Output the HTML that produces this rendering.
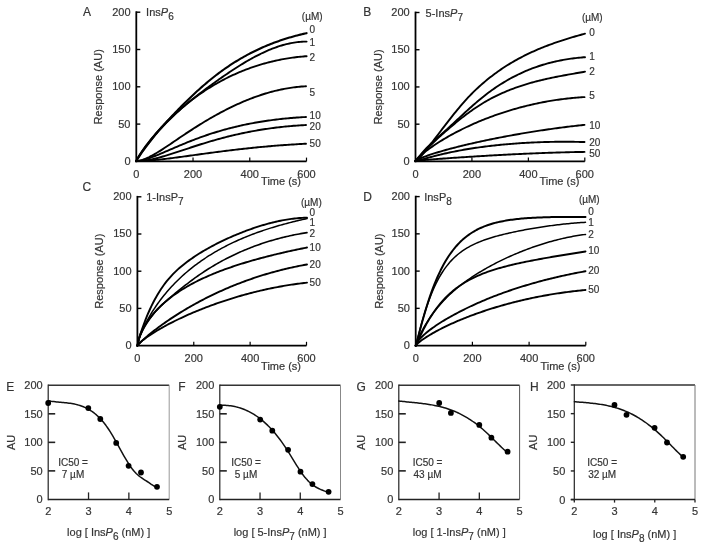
<!DOCTYPE html>
<html><head><meta charset="utf-8"><style>
html,body{margin:0;padding:0;background:#fff;}
svg{display:block;font-family:"Liberation Sans", sans-serif;filter:blur(0.5px);}
text{stroke:#3a3a3a;stroke-width:0.2px;}
</style></head><body>
<svg width="704" height="550" viewBox="0 0 704 550">
<rect width="704" height="550" fill="#fff"/>
<text x="83.00" y="15.50" font-size="12" text-anchor="start" fill="#333" >A</text>
<line x1="136.30" y1="11.30" x2="136.30" y2="162.30" stroke="#000" stroke-width="1.8"/>
<line x1="135.40" y1="161.40" x2="306.50" y2="161.40" stroke="#000" stroke-width="1.8"/>
<line x1="136.30" y1="12.20" x2="140.30" y2="12.20" stroke="#000" stroke-width="1.4"/>
<line x1="136.30" y1="49.50" x2="140.30" y2="49.50" stroke="#000" stroke-width="1.4"/>
<line x1="136.30" y1="86.80" x2="140.30" y2="86.80" stroke="#000" stroke-width="1.4"/>
<line x1="136.30" y1="124.10" x2="140.30" y2="124.10" stroke="#000" stroke-width="1.4"/>
<line x1="193.03" y1="161.40" x2="193.03" y2="157.60" stroke="#000" stroke-width="1.2"/>
<line x1="249.77" y1="161.40" x2="249.77" y2="157.60" stroke="#000" stroke-width="1.2"/>
<line x1="306.50" y1="161.40" x2="306.50" y2="157.60" stroke="#000" stroke-width="1.2"/>
<text x="130.50" y="15.60" font-size="11" text-anchor="end" fill="#333" >200</text>
<text x="130.50" y="52.90" font-size="11" text-anchor="end" fill="#333" >150</text>
<text x="130.50" y="90.20" font-size="11" text-anchor="end" fill="#333" >100</text>
<text x="130.50" y="127.50" font-size="11" text-anchor="end" fill="#333" >50</text>
<text x="130.50" y="164.80" font-size="11" text-anchor="end" fill="#333" >0</text>
<text x="136.30" y="177.50" font-size="11" text-anchor="middle" fill="#333" >0</text>
<text x="193.03" y="177.50" font-size="11" text-anchor="middle" fill="#333" >200</text>
<text x="249.77" y="177.50" font-size="11" text-anchor="middle" fill="#333" >400</text>
<text x="306.50" y="177.50" font-size="11" text-anchor="middle" fill="#333" >600</text>
<text x="301.00" y="185.20" font-size="11" text-anchor="end" fill="#333" >Time (s)</text>
<text x="0" y="0" font-size="11" text-anchor="middle" fill="#333" transform="translate(102.30,86.80) rotate(-90)">Response (AU)</text>
<text x="146.10" y="16.00" font-size="11" fill="#333">Ins<tspan font-style="italic">P</tspan><tspan dy="4" font-size="10">6</tspan></text>
<text x="301.80" y="20.00" font-size="10" text-anchor="start" fill="#333" >(&#181;M)</text>
<text x="309.60" y="33.40" font-size="10" text-anchor="start" fill="#333" >0</text>
<text x="309.60" y="45.80" font-size="10" text-anchor="start" fill="#333" >1</text>
<text x="309.60" y="61.10" font-size="10" text-anchor="start" fill="#333" >2</text>
<text x="309.60" y="95.60" font-size="10" text-anchor="start" fill="#333" >5</text>
<text x="309.60" y="119.20" font-size="10" text-anchor="start" fill="#333" >10</text>
<text x="309.60" y="130.00" font-size="10" text-anchor="start" fill="#333" >20</text>
<text x="309.60" y="147.20" font-size="10" text-anchor="start" fill="#333" >50</text>
<path d="M136.30,160.99 L137.86,158.44 L139.42,156.06 L140.99,153.75 L142.55,151.50 L144.11,149.31 L145.67,147.17 L147.24,145.07 L148.80,143.02 L150.36,141.00 L151.92,139.02 L153.49,137.07 L155.05,135.16 L156.61,133.28 L158.17,131.42 L159.74,129.59 L161.30,127.79 L162.86,126.02 L164.42,124.26 L165.99,122.53 L167.55,120.81 L169.11,119.12 L170.67,117.44 L172.23,115.78 L173.80,114.13 L175.36,112.50 L176.92,110.87 L178.48,109.26 L180.05,107.67 L181.61,106.09 L183.17,104.52 L184.73,102.97 L186.30,101.43 L187.86,99.90 L189.42,98.39 L190.98,96.90 L192.55,95.42 L194.11,93.95 L195.67,92.50 L197.23,91.07 L198.80,89.66 L200.36,88.26 L201.92,86.88 L203.48,85.52 L205.04,84.17 L206.61,82.84 L208.17,81.53 L209.73,80.24 L211.29,78.97 L212.86,77.72 L214.42,76.49 L215.98,75.27 L217.54,74.08 L219.11,72.91 L220.67,71.75 L222.23,70.62 L223.79,69.50 L225.36,68.41 L226.92,67.33 L228.48,66.27 L230.04,65.23 L231.61,64.21 L233.17,63.21 L234.73,62.22 L236.29,61.25 L237.86,60.30 L239.42,59.37 L240.98,58.45 L242.54,57.55 L244.10,56.67 L245.67,55.80 L247.23,54.95 L248.79,54.12 L250.35,53.30 L251.92,52.50 L253.48,51.71 L255.04,50.94 L256.60,50.19 L258.17,49.45 L259.73,48.72 L261.29,48.01 L262.85,47.32 L264.42,46.64 L265.98,45.97 L267.54,45.32 L269.10,44.68 L270.67,44.06 L272.23,43.45 L273.79,42.85 L275.35,42.27 L276.91,41.70 L278.48,41.14 L280.04,40.59 L281.60,40.06 L283.16,39.54 L284.73,39.04 L286.29,38.54 L287.85,38.06 L289.41,37.59 L290.98,37.14 L292.54,36.69 L294.10,36.25 L295.66,35.83 L297.23,35.42 L298.79,35.02 L300.35,34.63 L301.91,34.25 L303.48,33.88 L305.04,33.52 L306.60,33.18" fill="none" stroke="#000" stroke-width="2.1" stroke-linejoin="round" stroke-linecap="round"/>
<path d="M136.30,160.99 L137.86,158.07 L139.42,155.55 L140.99,153.18 L142.55,150.91 L144.11,148.73 L145.67,146.61 L147.24,144.56 L148.80,142.55 L150.36,140.60 L151.92,138.69 L153.49,136.83 L155.05,135.00 L156.61,133.21 L158.17,131.45 L159.74,129.73 L161.30,128.04 L162.86,126.38 L164.42,124.75 L165.99,123.14 L167.55,121.57 L169.11,120.01 L170.67,118.49 L172.23,116.98 L173.80,115.50 L175.36,114.04 L176.92,112.61 L178.48,111.19 L180.05,109.79 L181.61,108.41 L183.17,107.05 L184.73,105.71 L186.30,104.38 L187.86,103.07 L189.42,101.78 L190.98,100.50 L192.55,99.23 L194.11,97.98 L195.67,96.74 L197.23,95.51 L198.80,94.30 L200.36,93.09 L201.92,91.90 L203.48,90.72 L205.04,89.54 L206.61,88.38 L208.17,87.23 L209.73,86.08 L211.29,84.94 L212.86,83.81 L214.42,82.68 L215.98,81.56 L217.54,80.45 L219.11,79.34 L220.67,78.24 L222.23,77.15 L223.79,76.07 L225.36,74.99 L226.92,73.92 L228.48,72.86 L230.04,71.81 L231.61,70.77 L233.17,69.75 L234.73,68.73 L236.29,67.72 L237.86,66.73 L239.42,65.74 L240.98,64.77 L242.54,63.82 L244.10,62.87 L245.67,61.94 L247.23,61.03 L248.79,60.13 L250.35,59.24 L251.92,58.37 L253.48,57.52 L255.04,56.68 L256.60,55.86 L258.17,55.06 L259.73,54.28 L261.29,53.51 L262.85,52.77 L264.42,52.04 L265.98,51.34 L267.54,50.65 L269.10,49.99 L270.67,49.34 L272.23,48.72 L273.79,48.12 L275.35,47.55 L276.91,47.00 L278.48,46.47 L280.04,45.96 L281.60,45.48 L283.16,45.03 L284.73,44.60 L286.29,44.20 L287.85,43.82 L289.41,43.47 L290.98,43.15 L292.54,42.86 L294.10,42.60 L295.66,42.36 L297.23,42.16 L298.79,41.98 L300.35,41.84 L301.91,41.72 L303.48,41.64 L305.04,41.59 L306.60,41.58" fill="none" stroke="#000" stroke-width="1.9" stroke-linejoin="round" stroke-linecap="round"/>
<path d="M136.30,161.00 L137.86,157.89 L139.42,155.27 L140.99,152.83 L142.55,150.51 L144.11,148.29 L145.67,146.14 L147.24,144.06 L148.80,142.04 L150.36,140.07 L151.92,138.15 L153.49,136.27 L155.05,134.44 L156.61,132.64 L158.17,130.88 L159.74,129.16 L161.30,127.46 L162.86,125.81 L164.42,124.18 L165.99,122.58 L167.55,121.01 L169.11,119.47 L170.67,117.96 L172.23,116.48 L173.80,115.02 L175.36,113.58 L176.92,112.17 L178.48,110.79 L180.05,109.43 L181.61,108.09 L183.17,106.77 L184.73,105.48 L186.30,104.21 L187.86,102.96 L189.42,101.74 L190.98,100.53 L192.55,99.34 L194.11,98.18 L195.67,97.03 L197.23,95.91 L198.80,94.80 L200.36,93.72 L201.92,92.65 L203.48,91.60 L205.04,90.57 L206.61,89.56 L208.17,88.57 L209.73,87.59 L211.29,86.63 L212.86,85.69 L214.42,84.77 L215.98,83.86 L217.54,82.98 L219.11,82.10 L220.67,81.25 L222.23,80.41 L223.79,79.59 L225.36,78.78 L226.92,77.99 L228.48,77.21 L230.04,76.46 L231.61,75.71 L233.17,74.98 L234.73,74.27 L236.29,73.57 L237.86,72.89 L239.42,72.22 L240.98,71.57 L242.54,70.93 L244.10,70.31 L245.67,69.70 L247.23,69.11 L248.79,68.53 L250.35,67.96 L251.92,67.41 L253.48,66.87 L255.04,66.34 L256.60,65.83 L258.17,65.34 L259.73,64.85 L261.29,64.38 L262.85,63.92 L264.42,63.48 L265.98,63.05 L267.54,62.63 L269.10,62.23 L270.67,61.83 L272.23,61.46 L273.79,61.09 L275.35,60.74 L276.91,60.39 L278.48,60.06 L280.04,59.75 L281.60,59.44 L283.16,59.15 L284.73,58.87 L286.29,58.60 L287.85,58.35 L289.41,58.11 L290.98,57.87 L292.54,57.65 L294.10,57.44 L295.66,57.25 L297.23,57.06 L298.79,56.89 L300.35,56.73 L301.91,56.58 L303.48,56.44 L305.04,56.31 L306.60,56.19" fill="none" stroke="#000" stroke-width="1.9" stroke-linejoin="round" stroke-linecap="round"/>
<path d="M136.30,160.98 L137.86,160.89 L139.41,160.63 L140.97,160.27 L142.53,159.81 L144.08,159.27 L145.64,158.65 L147.20,157.98 L148.76,157.25 L150.31,156.47 L151.87,155.66 L153.43,154.80 L154.98,153.91 L156.54,152.99 L158.10,152.05 L159.65,151.08 L161.21,150.10 L162.77,149.10 L164.32,148.08 L165.88,147.06 L167.44,146.02 L168.99,144.98 L170.55,143.93 L172.11,142.88 L173.67,141.82 L175.22,140.76 L176.78,139.70 L178.34,138.65 L179.89,137.59 L181.45,136.54 L183.01,135.49 L184.56,134.45 L186.12,133.41 L187.68,132.38 L189.23,131.36 L190.79,130.34 L192.35,129.33 L193.90,128.32 L195.46,127.33 L197.02,126.34 L198.58,125.37 L200.13,124.40 L201.69,123.44 L203.25,122.49 L204.80,121.55 L206.36,120.62 L207.92,119.71 L209.47,118.80 L211.03,117.90 L212.59,117.01 L214.14,116.13 L215.70,115.26 L217.26,114.40 L218.81,113.55 L220.37,112.71 L221.93,111.89 L223.49,111.07 L225.04,110.26 L226.60,109.47 L228.16,108.68 L229.71,107.91 L231.27,107.14 L232.83,106.39 L234.38,105.65 L235.94,104.93 L237.50,104.21 L239.05,103.51 L240.61,102.82 L242.17,102.14 L243.72,101.47 L245.28,100.82 L246.84,100.18 L248.40,99.55 L249.95,98.94 L251.51,98.34 L253.07,97.75 L254.62,97.18 L256.18,96.61 L257.74,96.07 L259.29,95.53 L260.85,95.01 L262.41,94.50 L263.96,94.01 L265.52,93.53 L267.08,93.06 L268.63,92.61 L270.19,92.18 L271.75,91.75 L273.31,91.35 L274.86,90.95 L276.42,90.57 L277.98,90.21 L279.53,89.86 L281.09,89.52 L282.65,89.20 L284.20,88.90 L285.76,88.61 L287.32,88.34 L288.87,88.08 L290.43,87.83 L291.99,87.61 L293.54,87.39 L295.10,87.20 L296.66,87.02 L298.22,86.85 L299.77,86.71 L301.33,86.57 L302.89,86.46 L304.44,86.36 L306.00,86.28" fill="none" stroke="#000" stroke-width="1.9" stroke-linejoin="round" stroke-linecap="round"/>
<path d="M136.30,161.00 L137.86,160.93 L139.41,160.74 L140.97,160.47 L142.53,160.13 L144.08,159.73 L145.64,159.29 L147.20,158.82 L148.76,158.30 L150.31,157.76 L151.87,157.20 L153.43,156.61 L154.98,156.01 L156.54,155.39 L158.10,154.76 L159.65,154.11 L161.21,153.46 L162.77,152.80 L164.32,152.14 L165.88,151.47 L167.44,150.80 L168.99,150.12 L170.55,149.45 L172.11,148.78 L173.67,148.11 L175.22,147.44 L176.78,146.77 L178.34,146.11 L179.89,145.45 L181.45,144.80 L183.01,144.15 L184.56,143.51 L186.12,142.87 L187.68,142.24 L189.23,141.62 L190.79,141.00 L192.35,140.39 L193.90,139.79 L195.46,139.20 L197.02,138.61 L198.58,138.04 L200.13,137.47 L201.69,136.90 L203.25,136.35 L204.80,135.81 L206.36,135.27 L207.92,134.74 L209.47,134.22 L211.03,133.71 L212.59,133.21 L214.14,132.72 L215.70,132.23 L217.26,131.76 L218.81,131.29 L220.37,130.83 L221.93,130.38 L223.49,129.94 L225.04,129.51 L226.60,129.08 L228.16,128.67 L229.71,128.26 L231.27,127.86 L232.83,127.47 L234.38,127.08 L235.94,126.71 L237.50,126.34 L239.05,125.98 L240.61,125.62 L242.17,125.28 L243.72,124.94 L245.28,124.61 L246.84,124.29 L248.40,123.98 L249.95,123.67 L251.51,123.37 L253.07,123.08 L254.62,122.80 L256.18,122.52 L257.74,122.25 L259.29,121.98 L260.85,121.73 L262.41,121.47 L263.96,121.23 L265.52,120.99 L267.08,120.76 L268.63,120.54 L270.19,120.32 L271.75,120.11 L273.31,119.91 L274.86,119.71 L276.42,119.52 L277.98,119.33 L279.53,119.15 L281.09,118.98 L282.65,118.81 L284.20,118.65 L285.76,118.50 L287.32,118.35 L288.87,118.21 L290.43,118.07 L291.99,117.94 L293.54,117.81 L295.10,117.69 L296.66,117.57 L298.22,117.47 L299.77,117.36 L301.33,117.26 L302.89,117.17 L304.44,117.08 L306.00,117.00" fill="none" stroke="#000" stroke-width="1.9" stroke-linejoin="round" stroke-linecap="round"/>
<path d="M136.30,160.99 L137.86,161.01 L139.41,160.98 L140.97,160.90 L142.53,160.77 L144.08,160.61 L145.64,160.41 L147.20,160.18 L148.76,159.91 L150.31,159.62 L151.87,159.31 L153.43,158.97 L154.98,158.60 L156.54,158.22 L158.10,157.82 L159.65,157.41 L161.21,156.98 L162.77,156.53 L164.32,156.08 L165.88,155.61 L167.44,155.14 L168.99,154.66 L170.55,154.17 L172.11,153.67 L173.67,153.17 L175.22,152.66 L176.78,152.15 L178.34,151.64 L179.89,151.13 L181.45,150.61 L183.01,150.10 L184.56,149.58 L186.12,149.06 L187.68,148.55 L189.23,148.04 L190.79,147.52 L192.35,147.02 L193.90,146.51 L195.46,146.01 L197.02,145.50 L198.58,145.01 L200.13,144.52 L201.69,144.03 L203.25,143.54 L204.80,143.06 L206.36,142.59 L207.92,142.12 L209.47,141.65 L211.03,141.20 L212.59,140.74 L214.14,140.29 L215.70,139.85 L217.26,139.42 L218.81,138.99 L220.37,138.56 L221.93,138.14 L223.49,137.73 L225.04,137.33 L226.60,136.93 L228.16,136.53 L229.71,136.15 L231.27,135.77 L232.83,135.39 L234.38,135.03 L235.94,134.67 L237.50,134.31 L239.05,133.96 L240.61,133.62 L242.17,133.29 L243.72,132.96 L245.28,132.64 L246.84,132.32 L248.40,132.02 L249.95,131.71 L251.51,131.42 L253.07,131.13 L254.62,130.85 L256.18,130.57 L257.74,130.30 L259.29,130.04 L260.85,129.78 L262.41,129.53 L263.96,129.29 L265.52,129.05 L267.08,128.82 L268.63,128.59 L270.19,128.37 L271.75,128.16 L273.31,127.96 L274.86,127.75 L276.42,127.56 L277.98,127.37 L279.53,127.19 L281.09,127.01 L282.65,126.84 L284.20,126.68 L285.76,126.52 L287.32,126.37 L288.87,126.22 L290.43,126.08 L291.99,125.95 L293.54,125.82 L295.10,125.70 L296.66,125.58 L298.22,125.47 L299.77,125.37 L301.33,125.27 L302.89,125.18 L304.44,125.09 L306.00,125.01" fill="none" stroke="#000" stroke-width="1.9" stroke-linejoin="round" stroke-linecap="round"/>
<path d="M136.30,161.00 L137.86,161.01 L139.41,160.99 L140.97,160.95 L142.53,160.90 L144.08,160.83 L145.64,160.75 L147.20,160.65 L148.76,160.54 L150.31,160.42 L151.87,160.30 L153.43,160.16 L154.98,160.02 L156.54,159.87 L158.10,159.71 L159.65,159.55 L161.21,159.38 L162.77,159.20 L164.32,159.02 L165.88,158.84 L167.44,158.65 L168.99,158.46 L170.55,158.27 L172.11,158.07 L173.67,157.87 L175.22,157.67 L176.78,157.46 L178.34,157.26 L179.89,157.05 L181.45,156.84 L183.01,156.63 L184.56,156.42 L186.12,156.20 L187.68,155.99 L189.23,155.78 L190.79,155.56 L192.35,155.35 L193.90,155.13 L195.46,154.92 L197.02,154.70 L198.58,154.49 L200.13,154.28 L201.69,154.06 L203.25,153.85 L204.80,153.64 L206.36,153.43 L207.92,153.22 L209.47,153.01 L211.03,152.80 L212.59,152.59 L214.14,152.39 L215.70,152.18 L217.26,151.98 L218.81,151.78 L220.37,151.58 L221.93,151.38 L223.49,151.18 L225.04,150.99 L226.60,150.79 L228.16,150.60 L229.71,150.41 L231.27,150.22 L232.83,150.04 L234.38,149.85 L235.94,149.67 L237.50,149.49 L239.05,149.31 L240.61,149.13 L242.17,148.96 L243.72,148.78 L245.28,148.61 L246.84,148.44 L248.40,148.28 L249.95,148.11 L251.51,147.95 L253.07,147.79 L254.62,147.63 L256.18,147.48 L257.74,147.32 L259.29,147.17 L260.85,147.02 L262.41,146.88 L263.96,146.73 L265.52,146.59 L267.08,146.45 L268.63,146.31 L270.19,146.18 L271.75,146.04 L273.31,145.91 L274.86,145.79 L276.42,145.66 L277.98,145.54 L279.53,145.42 L281.09,145.30 L282.65,145.18 L284.20,145.07 L285.76,144.96 L287.32,144.85 L288.87,144.74 L290.43,144.64 L291.99,144.54 L293.54,144.44 L295.10,144.34 L296.66,144.25 L298.22,144.16 L299.77,144.07 L301.33,143.98 L302.89,143.90 L304.44,143.81 L306.00,143.74" fill="none" stroke="#000" stroke-width="1.9" stroke-linejoin="round" stroke-linecap="round"/>
<text x="363.25" y="15.50" font-size="12" text-anchor="start" fill="#333" >B</text>
<line x1="415.50" y1="11.60" x2="415.50" y2="162.30" stroke="#000" stroke-width="1.8"/>
<line x1="414.60" y1="161.40" x2="584.80" y2="161.40" stroke="#000" stroke-width="1.8"/>
<line x1="415.50" y1="12.50" x2="419.50" y2="12.50" stroke="#000" stroke-width="1.4"/>
<line x1="415.50" y1="49.73" x2="419.50" y2="49.73" stroke="#000" stroke-width="1.4"/>
<line x1="415.50" y1="86.95" x2="419.50" y2="86.95" stroke="#000" stroke-width="1.4"/>
<line x1="415.50" y1="124.18" x2="419.50" y2="124.18" stroke="#000" stroke-width="1.4"/>
<line x1="471.93" y1="161.40" x2="471.93" y2="157.60" stroke="#000" stroke-width="1.2"/>
<line x1="528.37" y1="161.40" x2="528.37" y2="157.60" stroke="#000" stroke-width="1.2"/>
<line x1="584.80" y1="161.40" x2="584.80" y2="157.60" stroke="#000" stroke-width="1.2"/>
<text x="409.70" y="15.90" font-size="11" text-anchor="end" fill="#333" >200</text>
<text x="409.70" y="53.13" font-size="11" text-anchor="end" fill="#333" >150</text>
<text x="409.70" y="90.35" font-size="11" text-anchor="end" fill="#333" >100</text>
<text x="409.70" y="127.58" font-size="11" text-anchor="end" fill="#333" >50</text>
<text x="409.70" y="164.80" font-size="11" text-anchor="end" fill="#333" >0</text>
<text x="415.50" y="177.50" font-size="11" text-anchor="middle" fill="#333" >0</text>
<text x="471.93" y="177.50" font-size="11" text-anchor="middle" fill="#333" >200</text>
<text x="528.37" y="177.50" font-size="11" text-anchor="middle" fill="#333" >400</text>
<text x="584.80" y="177.50" font-size="11" text-anchor="middle" fill="#333" >600</text>
<text x="579.30" y="185.20" font-size="11" text-anchor="end" fill="#333" >Time (s)</text>
<text x="0" y="0" font-size="11" text-anchor="middle" fill="#333" transform="translate(381.90,86.95) rotate(-90)">Response (AU)</text>
<text x="425.60" y="16.50" font-size="11" fill="#333">5-Ins<tspan font-style="italic">P</tspan><tspan dy="4" font-size="10">7</tspan></text>
<text x="581.90" y="21.00" font-size="10" text-anchor="start" fill="#333" >(&#181;M)</text>
<text x="589.30" y="35.60" font-size="10" text-anchor="start" fill="#333" >0</text>
<text x="589.30" y="60.30" font-size="10" text-anchor="start" fill="#333" >1</text>
<text x="589.30" y="74.90" font-size="10" text-anchor="start" fill="#333" >2</text>
<text x="589.30" y="99.20" font-size="10" text-anchor="start" fill="#333" >5</text>
<text x="589.30" y="128.90" font-size="10" text-anchor="start" fill="#333" >10</text>
<text x="589.30" y="145.60" font-size="10" text-anchor="start" fill="#333" >20</text>
<text x="589.30" y="157.35" font-size="10" text-anchor="start" fill="#333" >50</text>
<path d="M415.50,160.99 L417.06,160.04 L418.61,158.68 L420.17,157.10 L421.72,155.38 L423.28,153.57 L424.83,151.68 L426.39,149.75 L427.94,147.77 L429.50,145.77 L431.05,143.74 L432.61,141.71 L434.16,139.66 L435.72,137.61 L437.27,135.57 L438.83,133.52 L440.38,131.48 L441.94,129.44 L443.49,127.41 L445.05,125.38 L446.60,123.37 L448.16,121.36 L449.71,119.36 L451.27,117.38 L452.82,115.41 L454.38,113.46 L455.93,111.54 L457.49,109.64 L459.04,107.77 L460.60,105.93 L462.15,104.11 L463.71,102.34 L465.26,100.59 L466.82,98.89 L468.37,97.22 L469.93,95.59 L471.48,93.99 L473.04,92.43 L474.59,90.91 L476.15,89.42 L477.70,87.96 L479.26,86.53 L480.81,85.13 L482.37,83.76 L483.92,82.43 L485.48,81.12 L487.03,79.83 L488.59,78.57 L490.14,77.34 L491.70,76.13 L493.25,74.95 L494.81,73.79 L496.36,72.65 L497.92,71.54 L499.47,70.45 L501.03,69.38 L502.58,68.33 L504.14,67.30 L505.69,66.30 L507.25,65.31 L508.80,64.35 L510.36,63.40 L511.91,62.47 L513.47,61.57 L515.02,60.68 L516.58,59.80 L518.13,58.95 L519.69,58.11 L521.24,57.29 L522.80,56.48 L524.35,55.69 L525.91,54.92 L527.46,54.16 L529.02,53.42 L530.57,52.69 L532.13,51.97 L533.68,51.27 L535.24,50.58 L536.79,49.90 L538.35,49.24 L539.90,48.59 L541.46,47.95 L543.01,47.32 L544.57,46.70 L546.12,46.09 L547.68,45.50 L549.23,44.91 L550.79,44.34 L552.34,43.77 L553.90,43.22 L555.45,42.67 L557.01,42.13 L558.56,41.60 L560.12,41.08 L561.67,40.57 L563.23,40.06 L564.78,39.57 L566.34,39.08 L567.89,38.60 L569.45,38.12 L571.00,37.65 L572.56,37.19 L574.11,36.73 L575.67,36.28 L577.22,35.84 L578.78,35.40 L580.33,34.97 L581.89,34.54 L583.44,34.12 L585.00,33.70" fill="none" stroke="#000" stroke-width="1.9" stroke-linejoin="round" stroke-linecap="round"/>
<path d="M415.50,161.00 L417.06,159.15 L418.61,157.20 L420.17,155.28 L421.72,153.42 L423.28,151.62 L424.83,149.88 L426.39,148.21 L427.94,146.60 L429.50,145.05 L431.05,143.54 L432.61,142.07 L434.16,140.64 L435.72,139.24 L437.27,137.85 L438.83,136.48 L440.38,135.12 L441.94,133.75 L443.49,132.37 L445.05,130.98 L446.60,129.58 L448.16,128.16 L449.71,126.74 L451.27,125.30 L452.82,123.86 L454.38,122.42 L455.93,120.97 L457.49,119.52 L459.04,118.08 L460.60,116.63 L462.15,115.19 L463.71,113.75 L465.26,112.32 L466.82,110.89 L468.37,109.48 L469.93,108.08 L471.48,106.69 L473.04,105.31 L474.59,103.95 L476.15,102.60 L477.70,101.28 L479.26,99.97 L480.81,98.68 L482.37,97.42 L483.92,96.18 L485.48,94.96 L487.03,93.77 L488.59,92.60 L490.14,91.45 L491.70,90.32 L493.25,89.22 L494.81,88.14 L496.36,87.08 L497.92,86.05 L499.47,85.04 L501.03,84.04 L502.58,83.07 L504.14,82.13 L505.69,81.20 L507.25,80.29 L508.80,79.41 L510.36,78.54 L511.91,77.70 L513.47,76.87 L515.02,76.07 L516.58,75.28 L518.13,74.52 L519.69,73.77 L521.24,73.04 L522.80,72.34 L524.35,71.65 L525.91,70.98 L527.46,70.32 L529.02,69.69 L530.57,69.07 L532.13,68.48 L533.68,67.90 L535.24,67.33 L536.79,66.79 L538.35,66.26 L539.90,65.74 L541.46,65.25 L543.01,64.77 L544.57,64.30 L546.12,63.85 L547.68,63.42 L549.23,63.00 L550.79,62.60 L552.34,62.22 L553.90,61.84 L555.45,61.49 L557.01,61.14 L558.56,60.81 L560.12,60.50 L561.67,60.20 L563.23,59.91 L564.78,59.63 L566.34,59.37 L567.89,59.13 L569.45,58.89 L571.00,58.67 L572.56,58.46 L574.11,58.26 L575.67,58.07 L577.22,57.89 L578.78,57.73 L580.33,57.58 L581.89,57.44 L583.44,57.31 L585.00,57.19" fill="none" stroke="#000" stroke-width="1.9" stroke-linejoin="round" stroke-linecap="round"/>
<path d="M415.50,160.99 L417.06,159.27 L418.61,157.55 L420.17,155.85 L421.72,154.18 L423.28,152.54 L424.83,150.92 L426.39,149.33 L427.94,147.76 L429.50,146.22 L431.05,144.70 L432.61,143.21 L434.16,141.73 L435.72,140.28 L437.27,138.84 L438.83,137.42 L440.38,136.02 L441.94,134.63 L443.49,133.25 L445.05,131.88 L446.60,130.53 L448.16,129.18 L449.71,127.85 L451.27,126.52 L452.82,125.21 L454.38,123.91 L455.93,122.63 L457.49,121.36 L459.04,120.10 L460.60,118.86 L462.15,117.63 L463.71,116.43 L465.26,115.23 L466.82,114.06 L468.37,112.91 L469.93,111.78 L471.48,110.66 L473.04,109.57 L474.59,108.50 L476.15,107.45 L477.70,106.43 L479.26,105.43 L480.81,104.45 L482.37,103.49 L483.92,102.56 L485.48,101.65 L487.03,100.76 L488.59,99.89 L490.14,99.04 L491.70,98.21 L493.25,97.40 L494.81,96.61 L496.36,95.84 L497.92,95.09 L499.47,94.36 L501.03,93.64 L502.58,92.95 L504.14,92.27 L505.69,91.60 L507.25,90.96 L508.80,90.32 L510.36,89.71 L511.91,89.11 L513.47,88.52 L515.02,87.95 L516.58,87.39 L518.13,86.85 L519.69,86.32 L521.24,85.81 L522.80,85.30 L524.35,84.81 L525.91,84.33 L527.46,83.86 L529.02,83.41 L530.57,82.96 L532.13,82.53 L533.68,82.11 L535.24,81.69 L536.79,81.29 L538.35,80.89 L539.90,80.50 L541.46,80.13 L543.01,79.76 L544.57,79.39 L546.12,79.04 L547.68,78.69 L549.23,78.35 L550.79,78.02 L552.34,77.69 L553.90,77.37 L555.45,77.05 L557.01,76.74 L558.56,76.44 L560.12,76.14 L561.67,75.84 L563.23,75.54 L564.78,75.25 L566.34,74.97 L567.89,74.68 L569.45,74.40 L571.00,74.12 L572.56,73.85 L574.11,73.57 L575.67,73.30 L577.22,73.03 L578.78,72.75 L580.33,72.48 L581.89,72.21 L583.44,71.94 L585.00,71.67" fill="none" stroke="#000" stroke-width="1.9" stroke-linejoin="round" stroke-linecap="round"/>
<path d="M415.50,160.99 L417.05,159.03 L418.60,157.44 L420.15,155.99 L421.70,154.62 L423.25,153.32 L424.80,152.07 L426.35,150.86 L427.90,149.69 L429.45,148.55 L431.00,147.44 L432.56,146.36 L434.11,145.30 L435.66,144.27 L437.21,143.25 L438.76,142.26 L440.31,141.29 L441.86,140.33 L443.41,139.39 L444.96,138.47 L446.51,137.56 L448.06,136.67 L449.61,135.79 L451.16,134.93 L452.71,134.08 L454.26,133.25 L455.81,132.43 L457.36,131.62 L458.91,130.82 L460.46,130.04 L462.01,129.26 L463.56,128.50 L465.11,127.75 L466.67,127.01 L468.22,126.29 L469.77,125.57 L471.32,124.86 L472.87,124.17 L474.42,123.48 L475.97,122.81 L477.52,122.15 L479.07,121.49 L480.62,120.85 L482.17,120.21 L483.72,119.59 L485.27,118.97 L486.82,118.36 L488.37,117.77 L489.92,117.18 L491.47,116.60 L493.02,116.03 L494.57,115.47 L496.12,114.92 L497.67,114.38 L499.22,113.84 L500.78,113.32 L502.33,112.80 L503.88,112.29 L505.43,111.79 L506.98,111.30 L508.53,110.82 L510.08,110.35 L511.63,109.88 L513.18,109.43 L514.73,108.98 L516.28,108.54 L517.83,108.11 L519.38,107.68 L520.93,107.27 L522.48,106.86 L524.03,106.46 L525.58,106.07 L527.13,105.69 L528.68,105.31 L530.23,104.95 L531.78,104.59 L533.33,104.24 L534.89,103.90 L536.44,103.56 L537.99,103.23 L539.54,102.92 L541.09,102.61 L542.64,102.30 L544.19,102.01 L545.74,101.72 L547.29,101.44 L548.84,101.17 L550.39,100.91 L551.94,100.65 L553.49,100.40 L555.04,100.16 L556.59,99.93 L558.14,99.71 L559.69,99.49 L561.24,99.28 L562.79,99.08 L564.34,98.89 L565.89,98.70 L567.44,98.52 L569.00,98.35 L570.55,98.19 L572.10,98.04 L573.65,97.89 L575.20,97.75 L576.75,97.62 L578.30,97.50 L579.85,97.38 L581.40,97.27 L582.95,97.17 L584.50,97.08" fill="none" stroke="#000" stroke-width="1.9" stroke-linejoin="round" stroke-linecap="round"/>
<path d="M415.50,161.00 L417.05,159.95 L418.60,159.16 L420.15,158.46 L421.70,157.81 L423.25,157.19 L424.80,156.60 L426.35,156.03 L427.90,155.48 L429.45,154.95 L431.00,154.43 L432.56,153.93 L434.11,153.43 L435.66,152.95 L437.21,152.47 L438.76,152.01 L440.31,151.55 L441.86,151.10 L443.41,150.66 L444.96,150.22 L446.51,149.79 L448.06,149.36 L449.61,148.95 L451.16,148.53 L452.71,148.12 L454.26,147.72 L455.81,147.32 L457.36,146.93 L458.91,146.54 L460.46,146.15 L462.01,145.77 L463.56,145.40 L465.11,145.02 L466.67,144.65 L468.22,144.29 L469.77,143.93 L471.32,143.57 L472.87,143.21 L474.42,142.86 L475.97,142.51 L477.52,142.17 L479.07,141.83 L480.62,141.49 L482.17,141.15 L483.72,140.82 L485.27,140.49 L486.82,140.17 L488.37,139.84 L489.92,139.52 L491.47,139.20 L493.02,138.89 L494.57,138.58 L496.12,138.27 L497.67,137.96 L499.22,137.66 L500.78,137.36 L502.33,137.06 L503.88,136.76 L505.43,136.47 L506.98,136.18 L508.53,135.89 L510.08,135.61 L511.63,135.32 L513.18,135.04 L514.73,134.77 L516.28,134.49 L517.83,134.22 L519.38,133.95 L520.93,133.68 L522.48,133.42 L524.03,133.15 L525.58,132.89 L527.13,132.64 L528.68,132.38 L530.23,132.13 L531.78,131.88 L533.33,131.63 L534.89,131.39 L536.44,131.14 L537.99,130.90 L539.54,130.67 L541.09,130.43 L542.64,130.20 L544.19,129.97 L545.74,129.74 L547.29,129.51 L548.84,129.29 L550.39,129.07 L551.94,128.85 L553.49,128.64 L555.04,128.42 L556.59,128.21 L558.14,128.01 L559.69,127.80 L561.24,127.60 L562.79,127.40 L564.34,127.20 L565.89,127.00 L567.44,126.81 L569.00,126.62 L570.55,126.43 L572.10,126.25 L573.65,126.07 L575.20,125.89 L576.75,125.71 L578.30,125.53 L579.85,125.36 L581.40,125.19 L582.95,125.02 L584.50,124.86" fill="none" stroke="#000" stroke-width="1.9" stroke-linejoin="round" stroke-linecap="round"/>
<path d="M415.50,161.00 L417.05,160.69 L418.60,160.31 L420.15,159.91 L421.70,159.50 L423.25,159.08 L424.80,158.66 L426.35,158.24 L427.90,157.82 L429.45,157.40 L431.00,156.99 L432.56,156.58 L434.11,156.18 L435.66,155.78 L437.21,155.39 L438.76,155.01 L440.31,154.64 L441.86,154.27 L443.41,153.90 L444.96,153.55 L446.51,153.20 L448.06,152.86 L449.61,152.52 L451.16,152.19 L452.71,151.87 L454.26,151.56 L455.81,151.25 L457.36,150.95 L458.91,150.65 L460.46,150.37 L462.01,150.08 L463.56,149.81 L465.11,149.54 L466.67,149.27 L468.22,149.02 L469.77,148.76 L471.32,148.52 L472.87,148.28 L474.42,148.04 L475.97,147.81 L477.52,147.59 L479.07,147.37 L480.62,147.15 L482.17,146.94 L483.72,146.74 L485.27,146.54 L486.82,146.35 L488.37,146.16 L489.92,145.97 L491.47,145.79 L493.02,145.62 L494.57,145.44 L496.12,145.28 L497.67,145.12 L499.22,144.96 L500.78,144.80 L502.33,144.65 L503.88,144.51 L505.43,144.37 L506.98,144.23 L508.53,144.10 L510.08,143.97 L511.63,143.84 L513.18,143.72 L514.73,143.60 L516.28,143.49 L517.83,143.38 L519.38,143.27 L520.93,143.17 L522.48,143.07 L524.03,142.97 L525.58,142.88 L527.13,142.79 L528.68,142.71 L530.23,142.63 L531.78,142.55 L533.33,142.47 L534.89,142.40 L536.44,142.34 L537.99,142.27 L539.54,142.22 L541.09,142.16 L542.64,142.11 L544.19,142.06 L545.74,142.01 L547.29,141.97 L548.84,141.93 L550.39,141.90 L551.94,141.87 L553.49,141.84 L555.04,141.82 L556.59,141.80 L558.14,141.78 L559.69,141.77 L561.24,141.76 L562.79,141.75 L564.34,141.75 L565.89,141.75 L567.44,141.76 L569.00,141.76 L570.55,141.78 L572.10,141.79 L573.65,141.82 L575.20,141.84 L576.75,141.87 L578.30,141.90 L579.85,141.94 L581.40,141.98 L582.95,142.02 L584.50,142.07" fill="none" stroke="#000" stroke-width="1.9" stroke-linejoin="round" stroke-linecap="round"/>
<path d="M415.50,161.00 L417.05,160.79 L418.60,160.62 L420.15,160.46 L421.70,160.32 L423.25,160.17 L424.80,160.04 L426.35,159.90 L427.90,159.77 L429.45,159.64 L431.00,159.52 L432.56,159.39 L434.11,159.27 L435.66,159.15 L437.21,159.03 L438.76,158.91 L440.31,158.80 L441.86,158.68 L443.41,158.57 L444.96,158.46 L446.51,158.35 L448.06,158.24 L449.61,158.13 L451.16,158.02 L452.71,157.91 L454.26,157.81 L455.81,157.70 L457.36,157.59 L458.91,157.49 L460.46,157.39 L462.01,157.28 L463.56,157.18 L465.11,157.08 L466.67,156.98 L468.22,156.88 L469.77,156.78 L471.32,156.68 L472.87,156.59 L474.42,156.49 L475.97,156.39 L477.52,156.30 L479.07,156.21 L480.62,156.11 L482.17,156.02 L483.72,155.93 L485.27,155.83 L486.82,155.74 L488.37,155.65 L489.92,155.56 L491.47,155.47 L493.02,155.39 L494.57,155.30 L496.12,155.21 L497.67,155.13 L499.22,155.04 L500.78,154.96 L502.33,154.88 L503.88,154.79 L505.43,154.71 L506.98,154.63 L508.53,154.55 L510.08,154.47 L511.63,154.39 L513.18,154.32 L514.73,154.24 L516.28,154.16 L517.83,154.09 L519.38,154.01 L520.93,153.94 L522.48,153.87 L524.03,153.80 L525.58,153.73 L527.13,153.66 L528.68,153.59 L530.23,153.52 L531.78,153.46 L533.33,153.39 L534.89,153.33 L536.44,153.27 L537.99,153.20 L539.54,153.14 L541.09,153.08 L542.64,153.03 L544.19,152.97 L545.74,152.91 L547.29,152.86 L548.84,152.80 L550.39,152.75 L551.94,152.70 L553.49,152.65 L555.04,152.60 L556.59,152.55 L558.14,152.50 L559.69,152.46 L561.24,152.41 L562.79,152.37 L564.34,152.33 L565.89,152.29 L567.44,152.25 L569.00,152.21 L570.55,152.17 L572.10,152.14 L573.65,152.10 L575.20,152.07 L576.75,152.04 L578.30,152.01 L579.85,151.98 L581.40,151.96 L582.95,151.93 L584.50,151.91" fill="none" stroke="#000" stroke-width="1.9" stroke-linejoin="round" stroke-linecap="round"/>
<text x="82.50" y="191.00" font-size="12" text-anchor="start" fill="#333" >C</text>
<line x1="137.40" y1="195.90" x2="137.40" y2="346.50" stroke="#000" stroke-width="1.8"/>
<line x1="136.50" y1="345.60" x2="306.50" y2="345.60" stroke="#000" stroke-width="1.8"/>
<line x1="137.40" y1="196.80" x2="141.40" y2="196.80" stroke="#000" stroke-width="1.4"/>
<line x1="137.40" y1="234.00" x2="141.40" y2="234.00" stroke="#000" stroke-width="1.4"/>
<line x1="137.40" y1="271.20" x2="141.40" y2="271.20" stroke="#000" stroke-width="1.4"/>
<line x1="137.40" y1="308.40" x2="141.40" y2="308.40" stroke="#000" stroke-width="1.4"/>
<line x1="193.77" y1="345.60" x2="193.77" y2="341.80" stroke="#000" stroke-width="1.2"/>
<line x1="250.13" y1="345.60" x2="250.13" y2="341.80" stroke="#000" stroke-width="1.2"/>
<line x1="306.50" y1="345.60" x2="306.50" y2="341.80" stroke="#000" stroke-width="1.2"/>
<text x="131.60" y="200.20" font-size="11" text-anchor="end" fill="#333" >200</text>
<text x="131.60" y="237.40" font-size="11" text-anchor="end" fill="#333" >150</text>
<text x="131.60" y="274.60" font-size="11" text-anchor="end" fill="#333" >100</text>
<text x="131.60" y="311.80" font-size="11" text-anchor="end" fill="#333" >50</text>
<text x="131.60" y="349.00" font-size="11" text-anchor="end" fill="#333" >0</text>
<text x="137.40" y="361.50" font-size="11" text-anchor="middle" fill="#333" >0</text>
<text x="193.77" y="361.50" font-size="11" text-anchor="middle" fill="#333" >200</text>
<text x="250.13" y="361.50" font-size="11" text-anchor="middle" fill="#333" >400</text>
<text x="306.50" y="361.50" font-size="11" text-anchor="middle" fill="#333" >600</text>
<text x="301.00" y="370.00" font-size="11" text-anchor="end" fill="#333" >Time (s)</text>
<text x="0" y="0" font-size="11" text-anchor="middle" fill="#333" transform="translate(103.00,271.20) rotate(-90)">Response (AU)</text>
<text x="146.25" y="201.25" font-size="11" fill="#333">1-Ins<tspan>P</tspan><tspan dy="4" font-size="10">7</tspan></text>
<text x="301.00" y="206.00" font-size="10" text-anchor="start" fill="#333" >(&#181;M)</text>
<text x="309.60" y="216.00" font-size="10" text-anchor="start" fill="#333" >0</text>
<text x="309.60" y="225.60" font-size="10" text-anchor="start" fill="#333" >1</text>
<text x="309.60" y="236.60" font-size="10" text-anchor="start" fill="#333" >2</text>
<text x="309.60" y="251.20" font-size="10" text-anchor="start" fill="#333" >10</text>
<text x="309.60" y="268.00" font-size="10" text-anchor="start" fill="#333" >20</text>
<text x="309.60" y="286.20" font-size="10" text-anchor="start" fill="#333" >50</text>
<path d="M137.40,345.62 L138.96,338.99 L140.51,333.82 L142.07,329.12 L143.62,324.73 L145.18,320.60 L146.74,316.69 L148.29,312.99 L149.85,309.49 L151.40,306.16 L152.96,303.01 L154.52,300.01 L156.07,297.17 L157.63,294.47 L159.18,291.91 L160.74,289.49 L162.30,287.19 L163.85,285.01 L165.41,282.93 L166.96,280.95 L168.52,279.07 L170.08,277.28 L171.63,275.56 L173.19,273.93 L174.74,272.36 L176.30,270.86 L177.86,269.42 L179.41,268.04 L180.97,266.70 L182.52,265.41 L184.08,264.17 L185.63,262.96 L187.19,261.78 L188.75,260.64 L190.30,259.52 L191.86,258.43 L193.41,257.36 L194.97,256.32 L196.53,255.30 L198.08,254.30 L199.64,253.32 L201.19,252.36 L202.75,251.42 L204.31,250.50 L205.86,249.60 L207.42,248.71 L208.97,247.84 L210.53,246.98 L212.09,246.14 L213.64,245.32 L215.20,244.50 L216.75,243.70 L218.31,242.92 L219.87,242.14 L221.42,241.38 L222.98,240.63 L224.53,239.89 L226.09,239.17 L227.65,238.45 L229.20,237.75 L230.76,237.06 L232.31,236.38 L233.87,235.71 L235.43,235.05 L236.98,234.40 L238.54,233.76 L240.09,233.13 L241.65,232.51 L243.21,231.90 L244.76,231.31 L246.32,230.72 L247.87,230.15 L249.43,229.58 L250.99,229.03 L252.54,228.48 L254.10,227.95 L255.65,227.43 L257.21,226.92 L258.77,226.42 L260.32,225.94 L261.88,225.46 L263.43,225.00 L264.99,224.54 L266.54,224.10 L268.10,223.68 L269.66,223.26 L271.21,222.86 L272.77,222.47 L274.32,222.09 L275.88,221.73 L277.44,221.38 L278.99,221.05 L280.55,220.73 L282.10,220.42 L283.66,220.13 L285.22,219.85 L286.77,219.59 L288.33,219.34 L289.88,219.11 L291.44,218.90 L293.00,218.70 L294.55,218.52 L296.11,218.35 L297.66,218.20 L299.22,218.07 L300.78,217.96 L302.33,217.86 L303.89,217.79 L305.44,217.73 L307.00,217.69" fill="none" stroke="#000" stroke-width="1.9" stroke-linejoin="round" stroke-linecap="round"/>
<path d="M137.40,345.60 L138.96,339.23 L140.51,334.85 L142.07,331.05 L143.62,327.59 L145.18,324.38 L146.74,321.37 L148.29,318.52 L149.85,315.80 L151.40,313.21 L152.96,310.72 L154.52,308.33 L156.07,306.03 L157.63,303.80 L159.18,301.65 L160.74,299.57 L162.30,297.55 L163.85,295.59 L165.41,293.69 L166.96,291.85 L168.52,290.05 L170.08,288.30 L171.63,286.60 L173.19,284.94 L174.74,283.32 L176.30,281.75 L177.86,280.21 L179.41,278.71 L180.97,277.24 L182.52,275.81 L184.08,274.41 L185.63,273.05 L187.19,271.71 L188.75,270.40 L190.30,269.13 L191.86,267.88 L193.41,266.66 L194.97,265.46 L196.53,264.29 L198.08,263.14 L199.64,262.02 L201.19,260.92 L202.75,259.84 L204.31,258.78 L205.86,257.75 L207.42,256.74 L208.97,255.74 L210.53,254.77 L212.09,253.81 L213.64,252.88 L215.20,251.96 L216.75,251.05 L218.31,250.17 L219.87,249.30 L221.42,248.45 L222.98,247.62 L224.53,246.80 L226.09,245.99 L227.65,245.20 L229.20,244.42 L230.76,243.66 L232.31,242.91 L233.87,242.18 L235.43,241.46 L236.98,240.75 L238.54,240.05 L240.09,239.37 L241.65,238.70 L243.21,238.04 L244.76,237.39 L246.32,236.75 L247.87,236.12 L249.43,235.51 L250.99,234.90 L252.54,234.30 L254.10,233.72 L255.65,233.14 L257.21,232.58 L258.77,232.02 L260.32,231.47 L261.88,230.94 L263.43,230.41 L264.99,229.89 L266.54,229.38 L268.10,228.87 L269.66,228.38 L271.21,227.89 L272.77,227.41 L274.32,226.94 L275.88,226.48 L277.44,226.02 L278.99,225.57 L280.55,225.13 L282.10,224.70 L283.66,224.27 L285.22,223.85 L286.77,223.43 L288.33,223.03 L289.88,222.62 L291.44,222.23 L293.00,221.84 L294.55,221.46 L296.11,221.08 L297.66,220.71 L299.22,220.35 L300.78,219.99 L302.33,219.64 L303.89,219.29 L305.44,218.95 L307.00,218.61" fill="none" stroke="#000" stroke-width="1.5" stroke-linejoin="round" stroke-linecap="round"/>
<path d="M137.40,345.59 L138.96,339.13 L140.51,335.06 L142.07,331.64 L143.62,328.61 L145.18,325.86 L146.74,323.33 L148.29,320.98 L149.85,318.77 L151.40,316.70 L152.96,314.73 L154.52,312.86 L156.07,311.08 L157.63,309.37 L159.18,307.73 L160.74,306.16 L162.30,304.63 L163.85,303.16 L165.41,301.72 L166.96,300.33 L168.52,298.96 L170.08,297.62 L171.63,296.30 L173.19,295.00 L174.74,293.72 L176.30,292.44 L177.86,291.17 L179.41,289.91 L180.97,288.67 L182.52,287.43 L184.08,286.20 L185.63,284.99 L187.19,283.79 L188.75,282.60 L190.30,281.42 L191.86,280.25 L193.41,279.10 L194.97,277.97 L196.53,276.85 L198.08,275.75 L199.64,274.66 L201.19,273.60 L202.75,272.55 L204.31,271.52 L205.86,270.50 L207.42,269.51 L208.97,268.53 L210.53,267.56 L212.09,266.62 L213.64,265.69 L215.20,264.77 L216.75,263.87 L218.31,262.99 L219.87,262.12 L221.42,261.26 L222.98,260.42 L224.53,259.59 L226.09,258.78 L227.65,257.98 L229.20,257.20 L230.76,256.42 L232.31,255.67 L233.87,254.92 L235.43,254.19 L236.98,253.47 L238.54,252.76 L240.09,252.07 L241.65,251.38 L243.21,250.71 L244.76,250.06 L246.32,249.41 L247.87,248.78 L249.43,248.15 L250.99,247.54 L252.54,246.94 L254.10,246.36 L255.65,245.78 L257.21,245.22 L258.77,244.66 L260.32,244.12 L261.88,243.59 L263.43,243.07 L264.99,242.56 L266.54,242.06 L268.10,241.57 L269.66,241.09 L271.21,240.62 L272.77,240.17 L274.32,239.72 L275.88,239.29 L277.44,238.86 L278.99,238.44 L280.55,238.04 L282.10,237.64 L283.66,237.26 L285.22,236.88 L286.77,236.52 L288.33,236.16 L289.88,235.81 L291.44,235.48 L293.00,235.15 L294.55,234.83 L296.11,234.53 L297.66,234.23 L299.22,233.94 L300.78,233.66 L302.33,233.39 L303.89,233.13 L305.44,232.88 L307.00,232.64" fill="none" stroke="#000" stroke-width="1.6" stroke-linejoin="round" stroke-linecap="round"/>
<path d="M137.40,345.60 L138.96,338.03 L140.51,333.88 L142.07,330.49 L143.62,327.53 L145.18,324.87 L146.74,322.43 L148.29,320.17 L149.85,318.05 L151.40,316.06 L152.96,314.17 L154.52,312.37 L156.07,310.66 L157.63,309.02 L159.18,307.45 L160.74,305.94 L162.30,304.49 L163.85,303.09 L165.41,301.74 L166.96,300.43 L168.52,299.17 L170.08,297.94 L171.63,296.75 L173.19,295.60 L174.74,294.48 L176.30,293.39 L177.86,292.34 L179.41,291.30 L180.97,290.30 L182.52,289.32 L184.08,288.37 L185.63,287.44 L187.19,286.53 L188.75,285.64 L190.30,284.77 L191.86,283.92 L193.41,283.09 L194.97,282.28 L196.53,281.49 L198.08,280.71 L199.64,279.94 L201.19,279.20 L202.75,278.46 L204.31,277.75 L205.86,277.04 L207.42,276.35 L208.97,275.67 L210.53,275.00 L212.09,274.35 L213.64,273.70 L215.20,273.07 L216.75,272.45 L218.31,271.84 L219.87,271.23 L221.42,270.64 L222.98,270.06 L224.53,269.48 L226.09,268.92 L227.65,268.36 L229.20,267.82 L230.76,267.28 L232.31,266.74 L233.87,266.22 L235.43,265.70 L236.98,265.19 L238.54,264.69 L240.09,264.19 L241.65,263.70 L243.21,263.22 L244.76,262.75 L246.32,262.27 L247.87,261.81 L249.43,261.35 L250.99,260.90 L252.54,260.45 L254.10,260.01 L255.65,259.57 L257.21,259.14 L258.77,258.71 L260.32,258.29 L261.88,257.88 L263.43,257.46 L264.99,257.06 L266.54,256.65 L268.10,256.26 L269.66,255.86 L271.21,255.47 L272.77,255.09 L274.32,254.70 L275.88,254.33 L277.44,253.95 L278.99,253.58 L280.55,253.22 L282.10,252.85 L283.66,252.50 L285.22,252.14 L286.77,251.79 L288.33,251.44 L289.88,251.10 L291.44,250.76 L293.00,250.42 L294.55,250.08 L296.11,249.75 L297.66,249.42 L299.22,249.10 L300.78,248.78 L302.33,248.46 L303.89,248.14 L305.44,247.83 L307.00,247.52" fill="none" stroke="#000" stroke-width="1.9" stroke-linejoin="round" stroke-linecap="round"/>
<path d="M137.40,345.59 L138.96,343.81 L140.51,342.25 L142.07,340.78 L143.62,339.36 L145.18,337.98 L146.74,336.64 L148.29,335.33 L149.85,334.05 L151.40,332.79 L152.96,331.55 L154.52,330.34 L156.07,329.15 L157.63,327.97 L159.18,326.81 L160.74,325.67 L162.30,324.55 L163.85,323.44 L165.41,322.35 L166.96,321.27 L168.52,320.20 L170.08,319.15 L171.63,318.11 L173.19,317.09 L174.74,316.08 L176.30,315.08 L177.86,314.09 L179.41,313.12 L180.97,312.15 L182.52,311.20 L184.08,310.26 L185.63,309.33 L187.19,308.42 L188.75,307.51 L190.30,306.61 L191.86,305.73 L193.41,304.85 L194.97,303.99 L196.53,303.13 L198.08,302.29 L199.64,301.45 L201.19,300.63 L202.75,299.82 L204.31,299.01 L205.86,298.22 L207.42,297.43 L208.97,296.66 L210.53,295.89 L212.09,295.13 L213.64,294.38 L215.20,293.64 L216.75,292.91 L218.31,292.19 L219.87,291.48 L221.42,290.78 L222.98,290.08 L224.53,289.40 L226.09,288.72 L227.65,288.05 L229.20,287.39 L230.76,286.74 L232.31,286.10 L233.87,285.47 L235.43,284.84 L236.98,284.22 L238.54,283.62 L240.09,283.01 L241.65,282.42 L243.21,281.84 L244.76,281.26 L246.32,280.69 L247.87,280.13 L249.43,279.58 L250.99,279.04 L252.54,278.50 L254.10,277.97 L255.65,277.45 L257.21,276.94 L258.77,276.43 L260.32,275.94 L261.88,275.45 L263.43,274.96 L264.99,274.49 L266.54,274.02 L268.10,273.56 L269.66,273.11 L271.21,272.67 L272.77,272.23 L274.32,271.80 L275.88,271.38 L277.44,270.97 L278.99,270.56 L280.55,270.16 L282.10,269.77 L283.66,269.38 L285.22,269.01 L286.77,268.63 L288.33,268.27 L289.88,267.92 L291.44,267.57 L293.00,267.22 L294.55,266.89 L296.11,266.56 L297.66,266.24 L299.22,265.93 L300.78,265.62 L302.33,265.32 L303.89,265.03 L305.44,264.74 L307.00,264.47" fill="none" stroke="#000" stroke-width="1.9" stroke-linejoin="round" stroke-linecap="round"/>
<path d="M137.40,345.58 L138.96,343.69 L140.51,342.22 L142.07,340.88 L143.62,339.63 L145.18,338.45 L146.74,337.31 L148.29,336.22 L149.85,335.16 L151.40,334.13 L152.96,333.13 L154.52,332.15 L156.07,331.20 L157.63,330.26 L159.18,329.35 L160.74,328.45 L162.30,327.57 L163.85,326.71 L165.41,325.85 L166.96,325.02 L168.52,324.19 L170.08,323.38 L171.63,322.58 L173.19,321.80 L174.74,321.02 L176.30,320.26 L177.86,319.50 L179.41,318.76 L180.97,318.02 L182.52,317.30 L184.08,316.58 L185.63,315.88 L187.19,315.18 L188.75,314.49 L190.30,313.81 L191.86,313.14 L193.41,312.48 L194.97,311.82 L196.53,311.17 L198.08,310.54 L199.64,309.90 L201.19,309.28 L202.75,308.66 L204.31,308.06 L205.86,307.45 L207.42,306.86 L208.97,306.27 L210.53,305.69 L212.09,305.12 L213.64,304.56 L215.20,304.00 L216.75,303.45 L218.31,302.90 L219.87,302.36 L221.42,301.83 L222.98,301.31 L224.53,300.79 L226.09,300.28 L227.65,299.78 L229.20,299.28 L230.76,298.79 L232.31,298.30 L233.87,297.82 L235.43,297.35 L236.98,296.89 L238.54,296.43 L240.09,295.98 L241.65,295.53 L243.21,295.09 L244.76,294.66 L246.32,294.23 L247.87,293.81 L249.43,293.40 L250.99,292.99 L252.54,292.59 L254.10,292.20 L255.65,291.81 L257.21,291.43 L258.77,291.06 L260.32,290.69 L261.88,290.33 L263.43,289.97 L264.99,289.62 L266.54,289.28 L268.10,288.94 L269.66,288.61 L271.21,288.29 L272.77,287.97 L274.32,287.66 L275.88,287.36 L277.44,287.06 L278.99,286.77 L280.55,286.48 L282.10,286.21 L283.66,285.93 L285.22,285.67 L286.77,285.41 L288.33,285.16 L289.88,284.92 L291.44,284.68 L293.00,284.45 L294.55,284.22 L296.11,284.00 L297.66,283.79 L299.22,283.59 L300.78,283.39 L302.33,283.20 L303.89,283.01 L305.44,282.83 L307.00,282.66" fill="none" stroke="#000" stroke-width="1.9" stroke-linejoin="round" stroke-linecap="round"/>
<text x="363.25" y="200.50" font-size="12" text-anchor="start" fill="#333" >D</text>
<line x1="415.70" y1="195.70" x2="415.70" y2="346.50" stroke="#000" stroke-width="1.8"/>
<line x1="414.80" y1="345.60" x2="585.80" y2="345.60" stroke="#000" stroke-width="1.8"/>
<line x1="415.70" y1="196.60" x2="419.70" y2="196.60" stroke="#000" stroke-width="1.4"/>
<line x1="415.70" y1="233.85" x2="419.70" y2="233.85" stroke="#000" stroke-width="1.4"/>
<line x1="415.70" y1="271.10" x2="419.70" y2="271.10" stroke="#000" stroke-width="1.4"/>
<line x1="415.70" y1="308.35" x2="419.70" y2="308.35" stroke="#000" stroke-width="1.4"/>
<line x1="472.40" y1="345.60" x2="472.40" y2="341.80" stroke="#000" stroke-width="1.2"/>
<line x1="529.10" y1="345.60" x2="529.10" y2="341.80" stroke="#000" stroke-width="1.2"/>
<line x1="585.80" y1="345.60" x2="585.80" y2="341.80" stroke="#000" stroke-width="1.2"/>
<text x="409.90" y="200.00" font-size="11" text-anchor="end" fill="#333" >200</text>
<text x="409.90" y="237.25" font-size="11" text-anchor="end" fill="#333" >150</text>
<text x="409.90" y="274.50" font-size="11" text-anchor="end" fill="#333" >100</text>
<text x="409.90" y="311.75" font-size="11" text-anchor="end" fill="#333" >50</text>
<text x="409.90" y="349.00" font-size="11" text-anchor="end" fill="#333" >0</text>
<text x="415.70" y="361.50" font-size="11" text-anchor="middle" fill="#333" >0</text>
<text x="472.40" y="361.50" font-size="11" text-anchor="middle" fill="#333" >200</text>
<text x="529.10" y="361.50" font-size="11" text-anchor="middle" fill="#333" >400</text>
<text x="585.80" y="361.50" font-size="11" text-anchor="middle" fill="#333" >600</text>
<text x="580.30" y="370.00" font-size="11" text-anchor="end" fill="#333" >Time (s)</text>
<text x="0" y="0" font-size="11" text-anchor="middle" fill="#333" transform="translate(382.60,271.10) rotate(-90)">Response (AU)</text>
<text x="424.20" y="200.50" font-size="11" fill="#333">Ins<tspan>P</tspan><tspan dy="4" font-size="10">8</tspan></text>
<text x="578.90" y="203.00" font-size="10" text-anchor="start" fill="#333" >(&#181;M)</text>
<text x="588.20" y="215.30" font-size="10" text-anchor="start" fill="#333" >0</text>
<text x="588.20" y="226.10" font-size="10" text-anchor="start" fill="#333" >1</text>
<text x="588.20" y="237.50" font-size="10" text-anchor="start" fill="#333" >2</text>
<text x="588.20" y="253.90" font-size="10" text-anchor="start" fill="#333" >10</text>
<text x="588.20" y="274.00" font-size="10" text-anchor="start" fill="#333" >20</text>
<text x="588.20" y="293.20" font-size="10" text-anchor="start" fill="#333" >50</text>
<path d="M415.70,345.60 L417.26,340.33 L418.82,334.47 L420.37,328.60 L421.93,322.84 L423.49,317.26 L425.05,311.89 L426.60,306.75 L428.16,301.83 L429.72,297.14 L431.28,292.68 L432.84,288.44 L434.39,284.42 L435.95,280.60 L437.51,276.98 L439.07,273.56 L440.62,270.31 L442.18,267.24 L443.74,264.34 L445.30,261.60 L446.86,259.01 L448.41,256.56 L449.97,254.25 L451.53,252.06 L453.09,250.00 L454.64,248.06 L456.20,246.22 L457.76,244.49 L459.32,242.86 L460.88,241.31 L462.43,239.86 L463.99,238.49 L465.55,237.20 L467.11,235.98 L468.67,234.83 L470.22,233.75 L471.78,232.73 L473.34,231.76 L474.90,230.86 L476.45,230.00 L478.01,229.20 L479.57,228.44 L481.13,227.72 L482.69,227.05 L484.24,226.41 L485.80,225.82 L487.36,225.25 L488.92,224.72 L490.47,224.22 L492.03,223.75 L493.59,223.31 L495.15,222.89 L496.71,222.50 L498.26,222.13 L499.82,221.78 L501.38,221.45 L502.94,221.15 L504.49,220.86 L506.05,220.58 L507.61,220.33 L509.17,220.08 L510.73,219.86 L512.28,219.64 L513.84,219.44 L515.40,219.25 L516.96,219.08 L518.51,218.91 L520.07,218.76 L521.63,218.61 L523.19,218.47 L524.75,218.34 L526.30,218.22 L527.86,218.11 L529.42,218.01 L530.98,217.91 L532.53,217.82 L534.09,217.73 L535.65,217.65 L537.21,217.58 L538.77,217.51 L540.32,217.45 L541.88,217.39 L543.44,217.33 L545.00,217.28 L546.56,217.24 L548.11,217.20 L549.67,217.16 L551.23,217.12 L552.79,217.09 L554.34,217.06 L555.90,217.04 L557.46,217.02 L559.02,217.00 L560.58,216.98 L562.13,216.97 L563.69,216.96 L565.25,216.95 L566.81,216.95 L568.36,216.94 L569.92,216.94 L571.48,216.94 L573.04,216.95 L574.60,216.95 L576.15,216.96 L577.71,216.97 L579.27,216.98 L580.83,216.99 L582.38,217.00 L583.94,217.02 L585.50,217.04" fill="none" stroke="#000" stroke-width="2.0" stroke-linejoin="round" stroke-linecap="round"/>
<path d="M415.70,345.60 L417.26,339.92 L418.82,333.86 L420.37,327.95 L421.93,322.27 L423.49,316.87 L425.05,311.76 L426.60,306.95 L428.16,302.42 L429.72,298.16 L431.28,294.17 L432.84,290.43 L434.39,286.93 L435.95,283.64 L437.51,280.57 L439.07,277.70 L440.62,275.01 L442.18,272.49 L443.74,270.13 L445.30,267.92 L446.86,265.85 L448.41,263.91 L449.97,262.09 L451.53,260.38 L453.09,258.78 L454.64,257.27 L456.20,255.86 L457.76,254.52 L459.32,253.27 L460.88,252.08 L462.43,250.96 L463.99,249.90 L465.55,248.90 L467.11,247.95 L468.67,247.05 L470.22,246.19 L471.78,245.38 L473.34,244.60 L474.90,243.86 L476.45,243.16 L478.01,242.48 L479.57,241.84 L481.13,241.22 L482.69,240.62 L484.24,240.05 L485.80,239.50 L487.36,238.97 L488.92,238.46 L490.47,237.97 L492.03,237.49 L493.59,237.03 L495.15,236.58 L496.71,236.15 L498.26,235.72 L499.82,235.31 L501.38,234.91 L502.94,234.52 L504.49,234.14 L506.05,233.77 L507.61,233.40 L509.17,233.05 L510.73,232.70 L512.28,232.36 L513.84,232.03 L515.40,231.70 L516.96,231.38 L518.51,231.06 L520.07,230.75 L521.63,230.45 L523.19,230.15 L524.75,229.86 L526.30,229.57 L527.86,229.29 L529.42,229.01 L530.98,228.74 L532.53,228.47 L534.09,228.21 L535.65,227.95 L537.21,227.70 L538.77,227.45 L540.32,227.20 L541.88,226.96 L543.44,226.73 L545.00,226.50 L546.56,226.27 L548.11,226.05 L549.67,225.84 L551.23,225.62 L552.79,225.42 L554.34,225.22 L555.90,225.02 L557.46,224.83 L559.02,224.64 L560.58,224.46 L562.13,224.28 L563.69,224.11 L565.25,223.95 L566.81,223.79 L568.36,223.63 L569.92,223.48 L571.48,223.34 L573.04,223.20 L574.60,223.07 L576.15,222.95 L577.71,222.83 L579.27,222.71 L580.83,222.61 L582.38,222.51 L583.94,222.41 L585.50,222.32" fill="none" stroke="#000" stroke-width="1.5" stroke-linejoin="round" stroke-linecap="round"/>
<path d="M415.70,345.61 L417.26,340.97 L418.82,337.33 L420.37,334.05 L421.93,331.00 L423.49,328.14 L425.05,325.43 L426.60,322.85 L428.16,320.39 L429.72,318.04 L431.28,315.78 L432.84,313.61 L434.39,311.53 L435.95,309.52 L437.51,307.58 L439.07,305.72 L440.62,303.92 L442.18,302.18 L443.74,300.49 L445.30,298.87 L446.86,297.29 L448.41,295.77 L449.97,294.29 L451.53,292.85 L453.09,291.45 L454.64,290.10 L456.20,288.78 L457.76,287.50 L459.32,286.25 L460.88,285.03 L462.43,283.84 L463.99,282.68 L465.55,281.54 L467.11,280.43 L468.67,279.34 L470.22,278.27 L471.78,277.22 L473.34,276.19 L474.90,275.18 L476.45,274.19 L478.01,273.22 L479.57,272.26 L481.13,271.32 L482.69,270.39 L484.24,269.48 L485.80,268.58 L487.36,267.70 L488.92,266.84 L490.47,265.98 L492.03,265.14 L493.59,264.32 L495.15,263.50 L496.71,262.70 L498.26,261.91 L499.82,261.14 L501.38,260.37 L502.94,259.62 L504.49,258.88 L506.05,258.15 L507.61,257.43 L509.17,256.72 L510.73,256.02 L512.28,255.33 L513.84,254.66 L515.40,253.99 L516.96,253.33 L518.51,252.69 L520.07,252.05 L521.63,251.43 L523.19,250.81 L524.75,250.21 L526.30,249.61 L527.86,249.02 L529.42,248.45 L530.98,247.88 L532.53,247.33 L534.09,246.78 L535.65,246.24 L537.21,245.71 L538.77,245.20 L540.32,244.69 L541.88,244.19 L543.44,243.70 L545.00,243.22 L546.56,242.75 L548.11,242.29 L549.67,241.84 L551.23,241.41 L552.79,240.98 L554.34,240.56 L555.90,240.15 L557.46,239.75 L559.02,239.36 L560.58,238.98 L562.13,238.62 L563.69,238.26 L565.25,237.91 L566.81,237.58 L568.36,237.25 L569.92,236.94 L571.48,236.64 L573.04,236.34 L574.60,236.06 L576.15,235.79 L577.71,235.54 L579.27,235.29 L580.83,235.06 L582.38,234.83 L583.94,234.62 L585.50,234.42" fill="none" stroke="#000" stroke-width="1.5" stroke-linejoin="round" stroke-linecap="round"/>
<path d="M415.70,345.59 L417.26,342.31 L418.82,338.95 L420.37,335.66 L421.93,332.48 L423.49,329.41 L425.05,326.47 L426.60,323.64 L428.16,320.94 L429.72,318.35 L431.28,315.88 L432.84,313.51 L434.39,311.25 L435.95,309.09 L437.51,307.03 L439.07,305.05 L440.62,303.17 L442.18,301.37 L443.74,299.64 L445.30,298.00 L446.86,296.42 L448.41,294.92 L449.97,293.48 L451.53,292.10 L453.09,290.78 L454.64,289.52 L456.20,288.31 L457.76,287.15 L459.32,286.04 L460.88,284.98 L462.43,283.96 L463.99,282.98 L465.55,282.03 L467.11,281.13 L468.67,280.26 L470.22,279.42 L471.78,278.62 L473.34,277.84 L474.90,277.10 L476.45,276.38 L478.01,275.68 L479.57,275.01 L481.13,274.37 L482.69,273.74 L484.24,273.14 L485.80,272.55 L487.36,271.98 L488.92,271.43 L490.47,270.90 L492.03,270.38 L493.59,269.88 L495.15,269.39 L496.71,268.92 L498.26,268.46 L499.82,268.01 L501.38,267.57 L502.94,267.14 L504.49,266.72 L506.05,266.31 L507.61,265.91 L509.17,265.52 L510.73,265.14 L512.28,264.77 L513.84,264.40 L515.40,264.04 L516.96,263.69 L518.51,263.34 L520.07,263.00 L521.63,262.67 L523.19,262.34 L524.75,262.01 L526.30,261.69 L527.86,261.38 L529.42,261.07 L530.98,260.76 L532.53,260.46 L534.09,260.16 L535.65,259.86 L537.21,259.57 L538.77,259.28 L540.32,259.00 L541.88,258.71 L543.44,258.43 L545.00,258.15 L546.56,257.88 L548.11,257.60 L549.67,257.33 L551.23,257.06 L552.79,256.80 L554.34,256.53 L555.90,256.27 L557.46,256.01 L559.02,255.75 L560.58,255.49 L562.13,255.23 L563.69,254.97 L565.25,254.72 L566.81,254.47 L568.36,254.21 L569.92,253.96 L571.48,253.71 L573.04,253.46 L574.60,253.22 L576.15,252.97 L577.71,252.72 L579.27,252.48 L580.83,252.23 L582.38,251.99 L583.94,251.75 L585.50,251.50" fill="none" stroke="#000" stroke-width="1.9" stroke-linejoin="round" stroke-linecap="round"/>
<path d="M415.70,345.58 L417.26,342.24 L418.82,340.14 L420.37,338.35 L421.93,336.73 L423.49,335.24 L425.05,333.85 L426.60,332.52 L428.16,331.26 L429.72,330.05 L431.28,328.88 L432.84,327.75 L434.39,326.65 L435.95,325.58 L437.51,324.54 L439.07,323.53 L440.62,322.53 L442.18,321.56 L443.74,320.61 L445.30,319.67 L446.86,318.76 L448.41,317.85 L449.97,316.96 L451.53,316.09 L453.09,315.23 L454.64,314.38 L456.20,313.54 L457.76,312.72 L459.32,311.91 L460.88,311.10 L462.43,310.31 L463.99,309.53 L465.55,308.76 L467.11,308.00 L468.67,307.25 L470.22,306.51 L471.78,305.78 L473.34,305.06 L474.90,304.34 L476.45,303.64 L478.01,302.94 L479.57,302.26 L481.13,301.58 L482.69,300.91 L484.24,300.26 L485.80,299.61 L487.36,298.96 L488.92,298.33 L490.47,297.70 L492.03,297.09 L493.59,296.48 L495.15,295.87 L496.71,295.28 L498.26,294.69 L499.82,294.11 L501.38,293.54 L502.94,292.97 L504.49,292.41 L506.05,291.86 L507.61,291.31 L509.17,290.77 L510.73,290.24 L512.28,289.71 L513.84,289.19 L515.40,288.68 L516.96,288.17 L518.51,287.67 L520.07,287.18 L521.63,286.69 L523.19,286.20 L524.75,285.73 L526.30,285.25 L527.86,284.79 L529.42,284.33 L530.98,283.88 L532.53,283.43 L534.09,282.98 L535.65,282.55 L537.21,282.11 L538.77,281.69 L540.32,281.27 L541.88,280.85 L543.44,280.44 L545.00,280.04 L546.56,279.64 L548.11,279.24 L549.67,278.85 L551.23,278.47 L552.79,278.09 L554.34,277.71 L555.90,277.34 L557.46,276.98 L559.02,276.62 L560.58,276.27 L562.13,275.92 L563.69,275.57 L565.25,275.23 L566.81,274.90 L568.36,274.57 L569.92,274.24 L571.48,273.92 L573.04,273.61 L574.60,273.30 L576.15,272.99 L577.71,272.69 L579.27,272.39 L580.83,272.10 L582.38,271.81 L583.94,271.53 L585.50,271.25" fill="none" stroke="#000" stroke-width="1.9" stroke-linejoin="round" stroke-linecap="round"/>
<path d="M415.70,345.59 L417.26,343.85 L418.82,342.48 L420.37,341.24 L421.93,340.08 L423.49,338.99 L425.05,337.93 L426.60,336.92 L428.16,335.94 L429.72,335.00 L431.28,334.07 L432.84,333.17 L434.39,332.30 L435.95,331.44 L437.51,330.60 L439.07,329.78 L440.62,328.97 L442.18,328.18 L443.74,327.41 L445.30,326.65 L446.86,325.90 L448.41,325.16 L449.97,324.44 L451.53,323.73 L453.09,323.03 L454.64,322.34 L456.20,321.66 L457.76,320.99 L459.32,320.33 L460.88,319.68 L462.43,319.04 L463.99,318.41 L465.55,317.79 L467.11,317.18 L468.67,316.58 L470.22,315.98 L471.78,315.39 L473.34,314.81 L474.90,314.24 L476.45,313.68 L478.01,313.13 L479.57,312.58 L481.13,312.04 L482.69,311.51 L484.24,310.98 L485.80,310.46 L487.36,309.95 L488.92,309.45 L490.47,308.95 L492.03,308.46 L493.59,307.98 L495.15,307.50 L496.71,307.03 L498.26,306.57 L499.82,306.11 L501.38,305.66 L502.94,305.22 L504.49,304.78 L506.05,304.35 L507.61,303.92 L509.17,303.50 L510.73,303.09 L512.28,302.68 L513.84,302.28 L515.40,301.89 L516.96,301.50 L518.51,301.12 L520.07,300.74 L521.63,300.37 L523.19,300.01 L524.75,299.65 L526.30,299.29 L527.86,298.95 L529.42,298.61 L530.98,298.27 L532.53,297.94 L534.09,297.62 L535.65,297.30 L537.21,296.98 L538.77,296.68 L540.32,296.38 L541.88,296.08 L543.44,295.79 L545.00,295.50 L546.56,295.22 L548.11,294.95 L549.67,294.68 L551.23,294.42 L552.79,294.16 L554.34,293.91 L555.90,293.66 L557.46,293.42 L559.02,293.19 L560.58,292.96 L562.13,292.73 L563.69,292.52 L565.25,292.30 L566.81,292.09 L568.36,291.89 L569.92,291.69 L571.48,291.50 L573.04,291.31 L574.60,291.13 L576.15,290.96 L577.71,290.79 L579.27,290.62 L580.83,290.46 L582.38,290.31 L583.94,290.16 L585.50,290.02" fill="none" stroke="#000" stroke-width="1.9" stroke-linejoin="round" stroke-linecap="round"/>
<text x="6.25" y="391.30" font-size="12" text-anchor="start" fill="#333" >E</text>
<line x1="48.20" y1="385.30" x2="169.20" y2="385.30" stroke="#333" stroke-width="1.5"/>
<line x1="169.20" y1="385.30" x2="169.20" y2="499.40" stroke="#999" stroke-width="1.0"/>
<line x1="48.20" y1="384.55" x2="48.20" y2="500.15" stroke="#222" stroke-width="1.2"/>
<line x1="48.20" y1="499.40" x2="169.20" y2="499.40" stroke="#222" stroke-width="1.5"/>
<line x1="48.20" y1="413.82" x2="55.20" y2="413.82" stroke="#222" stroke-width="1.6"/>
<line x1="48.20" y1="442.35" x2="55.20" y2="442.35" stroke="#222" stroke-width="1.6"/>
<line x1="48.20" y1="470.88" x2="55.20" y2="470.88" stroke="#222" stroke-width="1.6"/>
<line x1="88.53" y1="499.40" x2="88.53" y2="492.40" stroke="#222" stroke-width="1.3"/>
<line x1="128.87" y1="499.40" x2="128.87" y2="492.40" stroke="#222" stroke-width="1.3"/>
<text x="42.70" y="389.30" font-size="11" text-anchor="end" fill="#333" >200</text>
<text x="42.70" y="417.82" font-size="11" text-anchor="end" fill="#333" >150</text>
<text x="42.70" y="446.35" font-size="11" text-anchor="end" fill="#333" >100</text>
<text x="42.70" y="474.88" font-size="11" text-anchor="end" fill="#333" >50</text>
<text x="42.70" y="503.40" font-size="11" text-anchor="end" fill="#333" >0</text>
<text x="48.20" y="515.20" font-size="11" text-anchor="middle" fill="#333" >2</text>
<text x="88.53" y="515.20" font-size="11" text-anchor="middle" fill="#333" >3</text>
<text x="128.87" y="515.20" font-size="11" text-anchor="middle" fill="#333" >4</text>
<text x="169.20" y="515.20" font-size="11" text-anchor="middle" fill="#333" >5</text>
<text x="0" y="0" font-size="11" text-anchor="middle" fill="#333" transform="translate(14.50,442.35) rotate(-90)">AU</text>
<text x="108.70" y="535.50" font-size="11" text-anchor="middle" fill="#333">log [ Ins<tspan font-style="italic">P</tspan><tspan dy="4" font-size="10">6</tspan><tspan dy="-4"> (nM) ]</tspan></text>
<text x="73.00" y="465.50" font-size="10" text-anchor="middle" fill="#333" >IC50 =</text>
<text x="73.00" y="477.80" font-size="10" text-anchor="middle" fill="#333" >7 &#181;M</text>
<path d="M48.40,400.75 L49.77,400.99 L51.14,401.21 L52.52,401.40 L53.89,401.57 L55.26,401.73 L56.63,401.88 L58.01,402.02 L59.38,402.15 L60.75,402.28 L62.12,402.40 L63.49,402.54 L64.87,402.67 L66.24,402.82 L67.61,402.98 L68.98,403.16 L70.35,403.35 L71.73,403.57 L73.10,403.81 L74.47,404.09 L75.84,404.39 L77.22,404.73 L78.59,405.11 L79.96,405.52 L81.33,405.99 L82.70,406.50 L84.08,407.06 L85.45,407.68 L86.82,408.35 L88.19,409.08 L89.56,409.88 L90.94,410.75 L92.31,411.68 L93.68,412.69 L95.05,413.77 L96.43,414.94 L97.80,416.18 L99.17,417.51 L100.54,418.94 L101.91,420.45 L103.29,422.06 L104.66,423.77 L106.03,425.57 L107.40,427.49 L108.77,429.51 L110.15,431.64 L111.52,433.87 L112.89,436.17 L114.26,438.55 L115.64,440.97 L117.01,443.43 L118.38,445.91 L119.75,448.40 L121.12,450.89 L122.50,453.35 L123.87,455.77 L125.24,458.14 L126.61,460.45 L127.98,462.67 L129.36,464.80 L130.73,466.82 L132.10,468.71 L133.47,470.47 L134.85,472.07 L136.22,473.50 L137.59,474.78 L138.96,475.94 L140.33,476.99 L141.71,477.96 L143.08,478.88 L144.45,479.76 L145.82,480.62 L147.19,481.50 L148.57,482.42 L149.94,483.36 L151.31,484.30 L152.68,485.19 L154.06,485.98 L155.43,486.63 L156.80,487.10" fill="none" stroke="#111" stroke-width="1.5" stroke-linejoin="round" stroke-linecap="round"/>
<circle cx="48.20" cy="403.00" r="2.9" fill="#000"/>
<circle cx="88.30" cy="408.10" r="2.9" fill="#000"/>
<circle cx="100.30" cy="419.00" r="2.9" fill="#000"/>
<circle cx="116.20" cy="442.90" r="2.9" fill="#000"/>
<circle cx="128.60" cy="465.80" r="2.9" fill="#000"/>
<circle cx="141.00" cy="472.50" r="2.9" fill="#000"/>
<circle cx="157.00" cy="486.80" r="2.9" fill="#000"/>
<text x="178.25" y="391.30" font-size="12" text-anchor="start" fill="#333" >F</text>
<line x1="219.80" y1="385.30" x2="340.50" y2="385.30" stroke="#333" stroke-width="1.5"/>
<line x1="340.50" y1="385.30" x2="340.50" y2="499.40" stroke="#888" stroke-width="1.0"/>
<line x1="219.80" y1="384.55" x2="219.80" y2="500.15" stroke="#222" stroke-width="1.2"/>
<line x1="219.80" y1="499.40" x2="340.50" y2="499.40" stroke="#222" stroke-width="1.5"/>
<line x1="219.80" y1="413.82" x2="226.80" y2="413.82" stroke="#222" stroke-width="1.6"/>
<line x1="219.80" y1="442.35" x2="226.80" y2="442.35" stroke="#222" stroke-width="1.6"/>
<line x1="219.80" y1="470.88" x2="226.80" y2="470.88" stroke="#222" stroke-width="1.6"/>
<line x1="260.03" y1="499.40" x2="260.03" y2="492.40" stroke="#222" stroke-width="1.3"/>
<line x1="300.27" y1="499.40" x2="300.27" y2="492.40" stroke="#222" stroke-width="1.3"/>
<text x="214.30" y="389.30" font-size="11" text-anchor="end" fill="#333" >200</text>
<text x="214.30" y="417.82" font-size="11" text-anchor="end" fill="#333" >150</text>
<text x="214.30" y="446.35" font-size="11" text-anchor="end" fill="#333" >100</text>
<text x="214.30" y="474.88" font-size="11" text-anchor="end" fill="#333" >50</text>
<text x="214.30" y="503.40" font-size="11" text-anchor="end" fill="#333" >0</text>
<text x="219.80" y="515.20" font-size="11" text-anchor="middle" fill="#333" >2</text>
<text x="260.03" y="515.20" font-size="11" text-anchor="middle" fill="#333" >3</text>
<text x="300.27" y="515.20" font-size="11" text-anchor="middle" fill="#333" >4</text>
<text x="340.50" y="515.20" font-size="11" text-anchor="middle" fill="#333" >5</text>
<text x="0" y="0" font-size="11" text-anchor="middle" fill="#333" transform="translate(185.70,442.35) rotate(-90)">AU</text>
<text x="280.15" y="535.50" font-size="11" text-anchor="middle" fill="#333">log [ 5-Ins<tspan font-style="italic">P</tspan><tspan dy="4" font-size="10">7</tspan><tspan dy="-4"> (nM) ]</tspan></text>
<text x="246.00" y="465.50" font-size="10" text-anchor="middle" fill="#333" >IC50 =</text>
<text x="246.00" y="477.80" font-size="10" text-anchor="middle" fill="#333" >5 &#181;M</text>
<path d="M219.70,405.30 L221.07,405.27 L222.45,405.26 L223.82,405.29 L225.19,405.34 L226.57,405.42 L227.94,405.53 L229.31,405.67 L230.69,405.85 L232.06,406.06 L233.43,406.30 L234.81,406.57 L236.18,406.88 L237.55,407.23 L238.93,407.61 L240.30,408.03 L241.67,408.49 L243.05,408.99 L244.42,409.53 L245.79,410.10 L247.17,410.72 L248.54,411.38 L249.92,412.08 L251.29,412.83 L252.66,413.62 L254.04,414.45 L255.41,415.33 L256.78,416.25 L258.16,417.23 L259.53,418.25 L260.90,419.32 L262.28,420.43 L263.65,421.60 L265.02,422.82 L266.40,424.09 L267.77,425.41 L269.14,426.79 L270.52,428.22 L271.89,429.70 L273.26,431.24 L274.64,432.83 L276.01,434.48 L277.38,436.19 L278.76,437.96 L280.13,439.79 L281.50,441.67 L282.88,443.61 L284.25,445.61 L285.62,447.67 L287.00,449.78 L288.37,451.94 L289.74,454.14 L291.12,456.38 L292.49,458.63 L293.86,460.88 L295.24,463.11 L296.61,465.31 L297.98,467.47 L299.36,469.58 L300.73,471.61 L302.11,473.57 L303.48,475.44 L304.85,477.20 L306.23,478.84 L307.60,480.36 L308.97,481.74 L310.35,483.00 L311.72,484.15 L313.09,485.19 L314.47,486.13 L315.84,486.99 L317.21,487.77 L318.59,488.49 L319.96,489.14 L321.33,489.74 L322.71,490.30 L324.08,490.83 L325.45,491.33 L326.83,491.81 L328.20,492.30" fill="none" stroke="#111" stroke-width="1.5" stroke-linejoin="round" stroke-linecap="round"/>
<circle cx="219.80" cy="406.80" r="2.9" fill="#000"/>
<circle cx="260.20" cy="419.60" r="2.9" fill="#000"/>
<circle cx="272.30" cy="430.70" r="2.9" fill="#000"/>
<circle cx="288.10" cy="449.80" r="2.9" fill="#000"/>
<circle cx="300.50" cy="471.70" r="2.9" fill="#000"/>
<circle cx="312.40" cy="484.10" r="2.9" fill="#000"/>
<circle cx="328.60" cy="491.80" r="2.9" fill="#000"/>
<text x="356.50" y="391.30" font-size="12" text-anchor="start" fill="#333" >G</text>
<line x1="398.80" y1="385.30" x2="519.60" y2="385.30" stroke="#333" stroke-width="1.5"/>
<line x1="519.60" y1="385.30" x2="519.60" y2="499.40" stroke="#555" stroke-width="1.0"/>
<line x1="398.80" y1="384.55" x2="398.80" y2="500.15" stroke="#222" stroke-width="1.2"/>
<line x1="398.80" y1="499.40" x2="519.60" y2="499.40" stroke="#222" stroke-width="1.5"/>
<line x1="398.80" y1="413.82" x2="405.80" y2="413.82" stroke="#222" stroke-width="1.6"/>
<line x1="398.80" y1="442.35" x2="405.80" y2="442.35" stroke="#222" stroke-width="1.6"/>
<line x1="398.80" y1="470.88" x2="405.80" y2="470.88" stroke="#222" stroke-width="1.6"/>
<line x1="439.07" y1="499.40" x2="439.07" y2="492.40" stroke="#222" stroke-width="1.3"/>
<line x1="479.33" y1="499.40" x2="479.33" y2="492.40" stroke="#222" stroke-width="1.3"/>
<text x="393.30" y="389.30" font-size="11" text-anchor="end" fill="#333" >200</text>
<text x="393.30" y="417.82" font-size="11" text-anchor="end" fill="#333" >150</text>
<text x="393.30" y="446.35" font-size="11" text-anchor="end" fill="#333" >100</text>
<text x="393.30" y="474.88" font-size="11" text-anchor="end" fill="#333" >50</text>
<text x="393.30" y="503.40" font-size="11" text-anchor="end" fill="#333" >0</text>
<text x="398.80" y="515.20" font-size="11" text-anchor="middle" fill="#333" >2</text>
<text x="439.07" y="515.20" font-size="11" text-anchor="middle" fill="#333" >3</text>
<text x="479.33" y="515.20" font-size="11" text-anchor="middle" fill="#333" >4</text>
<text x="519.60" y="515.20" font-size="11" text-anchor="middle" fill="#333" >5</text>
<text x="0" y="0" font-size="11" text-anchor="middle" fill="#333" transform="translate(365.20,442.35) rotate(-90)">AU</text>
<text x="459.20" y="535.50" font-size="11" text-anchor="middle" fill="#333">log [ 1-Ins<tspan font-style="italic">P</tspan><tspan dy="4" font-size="10">7</tspan><tspan dy="-4"> (nM) ]</tspan></text>
<text x="427.50" y="465.50" font-size="10" text-anchor="middle" fill="#333" >IC50 =</text>
<text x="427.50" y="477.80" font-size="10" text-anchor="middle" fill="#333" >43 &#181;M</text>
<path d="M398.80,401.01 L400.17,401.17 L401.54,401.32 L402.92,401.46 L404.29,401.61 L405.66,401.75 L407.03,401.88 L408.41,402.02 L409.78,402.15 L411.15,402.29 L412.52,402.42 L413.89,402.56 L415.27,402.70 L416.64,402.84 L418.01,402.99 L419.38,403.14 L420.75,403.30 L422.13,403.47 L423.50,403.64 L424.87,403.82 L426.24,404.01 L427.62,404.21 L428.99,404.42 L430.36,404.64 L431.73,404.88 L433.10,405.13 L434.48,405.39 L435.85,405.67 L437.22,405.96 L438.59,406.27 L439.96,406.59 L441.34,406.94 L442.71,407.30 L444.08,407.69 L445.45,408.09 L446.83,408.52 L448.20,408.96 L449.57,409.43 L450.94,409.93 L452.31,410.45 L453.69,410.99 L455.06,411.56 L456.43,412.16 L457.80,412.78 L459.17,413.43 L460.55,414.11 L461.92,414.82 L463.29,415.55 L464.66,416.31 L466.04,417.10 L467.41,417.92 L468.78,418.77 L470.15,419.65 L471.52,420.56 L472.90,421.50 L474.27,422.48 L475.64,423.48 L477.01,424.52 L478.38,425.59 L479.76,426.69 L481.13,427.83 L482.50,429.00 L483.87,430.20 L485.25,431.44 L486.62,432.72 L487.99,434.02 L489.36,435.34 L490.73,436.69 L492.11,438.04 L493.48,439.41 L494.85,440.77 L496.22,442.14 L497.59,443.49 L498.97,444.83 L500.34,446.16 L501.71,447.45 L503.08,448.72 L504.46,449.96 L505.83,451.15 L507.20,452.30" fill="none" stroke="#111" stroke-width="1.5" stroke-linejoin="round" stroke-linecap="round"/>
<circle cx="439.20" cy="403.00" r="2.9" fill="#000"/>
<circle cx="450.90" cy="412.90" r="2.9" fill="#000"/>
<circle cx="479.30" cy="424.90" r="2.9" fill="#000"/>
<circle cx="491.40" cy="437.70" r="2.9" fill="#000"/>
<circle cx="507.60" cy="451.70" r="2.9" fill="#000"/>
<text x="530.00" y="391.00" font-size="12" text-anchor="start" fill="#333" >H</text>
<line x1="574.30" y1="385.00" x2="695.00" y2="385.00" stroke="#333" stroke-width="1.5"/>
<line x1="695.00" y1="385.00" x2="695.00" y2="499.60" stroke="#777" stroke-width="1.0"/>
<line x1="574.30" y1="384.25" x2="574.30" y2="500.35" stroke="#222" stroke-width="1.2"/>
<line x1="570.80" y1="499.60" x2="695.00" y2="499.60" stroke="#222" stroke-width="1.5"/>
<line x1="570.80" y1="413.65" x2="574.30" y2="413.65" stroke="#222" stroke-width="1.4"/>
<line x1="570.80" y1="442.30" x2="574.30" y2="442.30" stroke="#222" stroke-width="1.4"/>
<line x1="570.80" y1="470.95" x2="574.30" y2="470.95" stroke="#222" stroke-width="1.4"/>
<line x1="570.80" y1="385.00" x2="574.30" y2="385.00" stroke="#222" stroke-width="1.4"/>
<line x1="570.80" y1="499.60" x2="574.30" y2="499.60" stroke="#222" stroke-width="1.4"/>
<line x1="574.30" y1="499.60" x2="574.30" y2="502.60" stroke="#222" stroke-width="1.3"/>
<line x1="614.53" y1="499.60" x2="614.53" y2="502.60" stroke="#222" stroke-width="1.3"/>
<line x1="654.77" y1="499.60" x2="654.77" y2="502.60" stroke="#222" stroke-width="1.3"/>
<line x1="695.00" y1="499.60" x2="695.00" y2="502.60" stroke="#222" stroke-width="1.3"/>
<text x="565.30" y="389.00" font-size="11" text-anchor="end" fill="#333" >200</text>
<text x="565.30" y="417.65" font-size="11" text-anchor="end" fill="#333" >150</text>
<text x="565.30" y="446.30" font-size="11" text-anchor="end" fill="#333" >100</text>
<text x="565.30" y="474.95" font-size="11" text-anchor="end" fill="#333" >50</text>
<text x="565.30" y="503.60" font-size="11" text-anchor="end" fill="#333" >0</text>
<text x="574.30" y="515.20" font-size="11" text-anchor="middle" fill="#333" >2</text>
<text x="614.53" y="515.20" font-size="11" text-anchor="middle" fill="#333" >3</text>
<text x="654.77" y="515.20" font-size="11" text-anchor="middle" fill="#333" >4</text>
<text x="695.00" y="515.20" font-size="11" text-anchor="middle" fill="#333" >5</text>
<text x="0" y="0" font-size="11" text-anchor="middle" fill="#333" transform="translate(536.70,442.30) rotate(-90)">AU</text>
<text x="634.65" y="538.00" font-size="11" text-anchor="middle" fill="#333">log [ Ins<tspan font-style="italic">P</tspan><tspan dy="4" font-size="10">8</tspan><tspan dy="-4"> (nM) ]</tspan></text>
<text x="602.20" y="465.50" font-size="10" text-anchor="middle" fill="#333" >IC50 =</text>
<text x="602.20" y="477.80" font-size="10" text-anchor="middle" fill="#333" >32 &#181;M</text>
<path d="M574.40,401.70 L575.78,401.81 L577.15,401.92 L578.53,402.03 L579.90,402.14 L581.28,402.26 L582.66,402.37 L584.03,402.49 L585.41,402.61 L586.78,402.73 L588.16,402.86 L589.54,402.99 L590.91,403.14 L592.29,403.28 L593.66,403.44 L595.04,403.61 L596.42,403.78 L597.79,403.97 L599.17,404.17 L600.54,404.38 L601.92,404.60 L603.29,404.84 L604.67,405.09 L606.05,405.35 L607.42,405.63 L608.80,405.93 L610.17,406.24 L611.55,406.58 L612.93,406.93 L614.30,407.30 L615.68,407.69 L617.05,408.11 L618.43,408.54 L619.81,409.00 L621.18,409.48 L622.56,409.99 L623.93,410.52 L625.31,411.08 L626.69,411.66 L628.06,412.27 L629.44,412.91 L630.81,413.57 L632.19,414.27 L633.57,414.99 L634.94,415.74 L636.32,416.52 L637.69,417.32 L639.07,418.16 L640.45,419.02 L641.82,419.91 L643.20,420.83 L644.57,421.78 L645.95,422.76 L647.33,423.76 L648.70,424.80 L650.08,425.86 L651.45,426.95 L652.83,428.07 L654.21,429.22 L655.58,430.40 L656.96,431.60 L658.33,432.84 L659.71,434.10 L661.08,435.40 L662.46,436.72 L663.84,438.07 L665.21,439.43 L666.59,440.81 L667.96,442.21 L669.34,443.61 L670.72,445.02 L672.09,446.42 L673.47,447.82 L674.84,449.22 L676.22,450.60 L677.60,451.96 L678.97,453.31 L680.35,454.63 L681.72,455.92 L683.10,457.18" fill="none" stroke="#111" stroke-width="1.5" stroke-linejoin="round" stroke-linecap="round"/>
<circle cx="614.50" cy="404.90" r="2.9" fill="#000"/>
<circle cx="626.50" cy="414.80" r="2.9" fill="#000"/>
<circle cx="654.60" cy="427.80" r="2.9" fill="#000"/>
<circle cx="667.00" cy="442.50" r="2.9" fill="#000"/>
<circle cx="683.20" cy="456.80" r="2.9" fill="#000"/>
</svg>
</body></html>
